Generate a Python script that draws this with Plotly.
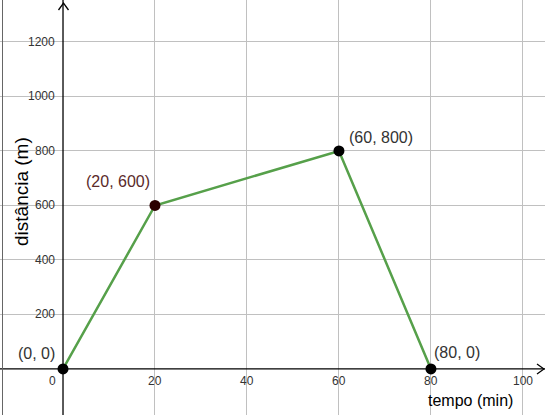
import plotly.graph_objects as go

# Data
tempo = [0, 20, 60, 80]
distancia = [0, 600, 800, 0]
point_labels = ["(0, 0)", "(20, 600)", "(60, 800)", "(80, 0)"]
x_ticks = [0, 20, 40, 60, 80, 100]
y_ticks = [200, 400, 600, 800, 1000, 1200]
x_title = "tempo (min)"
y_title = "distância (m)"

W, H = 545, 415
XR = [-13.7, 104.8]
YR = [-169, 1354]
FONT = "Liberation Sans, Arial, sans-serif"

fig = go.Figure()

# polyline
fig.add_trace(go.Scatter(x=tempo, y=distancia, mode="lines",
                         line=dict(color="#56a04a", width=2.5), hoverinfo="skip"))
# points
pt_colors = ["#000000", "#2b0000", "#000000", "#000000"]
fig.add_trace(go.Scatter(x=tempo, y=distancia, mode="markers",
                         marker=dict(color=pt_colors, size=11), hoverinfo="skip"))

annotations = []
# point labels
lbl_offsets = [(-27, 15), (-37, 24), (42, 13), (26, 16)]
lbl_colors = ["#333333", "#5a2a2a", "#333333", "#333333"]
for x, y, t, (dx, dy), c in zip(tempo, distancia, point_labels, lbl_offsets, lbl_colors):
    annotations.append(dict(x=x, y=y, text=t, showarrow=False, xshift=dx, yshift=dy,
                            xanchor="center", yanchor="middle",
                            font=dict(size=16, color=c, family=FONT)))

tick_font = dict(size=12, color="#333333", family=FONT)
for v in x_ticks:
    annotations.append(dict(x=v, y=0, text=str(v), showarrow=False, yanchor="top",
                            xanchor="center",
                            yshift=-3, xshift=(-11 if v == 0 else 0), font=tick_font))
for v in y_ticks:
    annotations.append(dict(x=0, y=v, text=str(v), showarrow=False, xanchor="right",
                            yanchor="middle", xshift=-6, font=tick_font))

annotations.append(dict(xref="paper", yref="paper", x=470 / W, y=1 - 400 / H, text=x_title,
                        xanchor="center", yanchor="middle",
                        showarrow=False, font=dict(size=16, color="#000000", family=FONT)))
annotations.append(dict(xref="paper", yref="paper", x=21 / W, y=1 - 192 / H, text=y_title,
                        xanchor="center", yanchor="middle",
                        textangle=-90, showarrow=False,
                        font=dict(size=19, color="#000000", family=FONT)))

shapes = []
# axes lines
shapes.append(dict(type="line", xref="x", yref="paper", x0=0, x1=0, y0=0, y1=1,
                   line=dict(color="#000000", width=1.3), layer="above"))
shapes.append(dict(type="line", xref="paper", yref="y", x0=0, x1=1, y0=0, y1=0,
                   line=dict(color="#000000", width=1.3), layer="above"))
# left border
shapes.append(dict(type="line", xref="paper", yref="paper", x0=2.5 / W, x1=2.5 / W, y0=0, y1=1,
                   line=dict(color="#666666", width=1)))


def px(xp, yp):
    return xp / W, 1 - yp / H

# arrow heads
ax = 63.5
p1, p2, p3 = px(ax - 5, 10), px(ax, 3), px(ax + 5, 10)
shapes.append(dict(type="path", xref="paper", yref="paper",
                   path=f"M {p1[0]},{p1[1]} L {p2[0]},{p2[1]} L {p3[0]},{p3[1]}",
                   line=dict(color="#000000", width=1.3)))
ay = 369
q1, q2, q3 = px(537, ay - 5), px(544, ay), px(537, ay + 5)
shapes.append(dict(type="path", xref="paper", yref="paper",
                   path=f"M {q1[0]},{q1[1]} L {q2[0]},{q2[1]} L {q3[0]},{q3[1]}",
                   line=dict(color="#000000", width=1.3)))

fig.update_layout(
    width=W, height=H, margin=dict(l=0, r=0, t=0, b=0),
    paper_bgcolor="white", plot_bgcolor="white", showlegend=False,
    xaxis=dict(range=XR, tickvals=x_ticks[1:], showticklabels=False, showgrid=True,
               gridcolor="#c0c0c0", gridwidth=1, zeroline=False, ticks=""),
    yaxis=dict(range=YR, tickvals=y_ticks, showticklabels=False, showgrid=True,
               gridcolor="#c0c0c0", gridwidth=1, zeroline=False, ticks=""),
    annotations=annotations, shapes=shapes,
)

fig.write_html("out.html", config={"displayModeBar": False},
               post_script="document.body.style.margin='0';document.body.style.overflow='hidden';")
